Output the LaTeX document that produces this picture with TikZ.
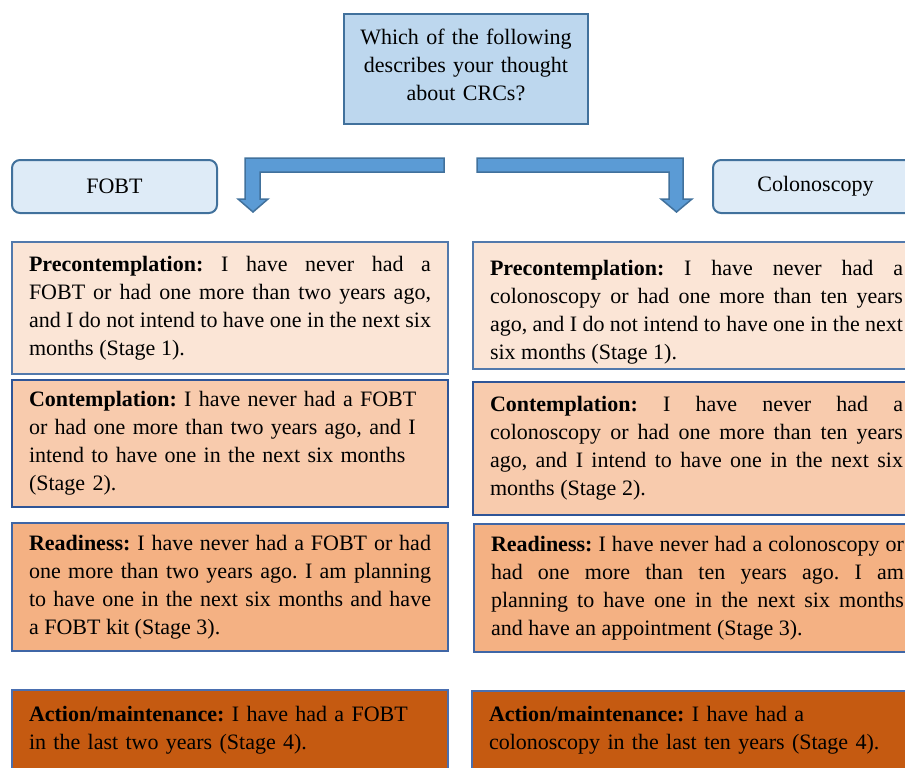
\documentclass[tikz,border=0pt]{standalone}
\usepackage{fontspec}
\setmainfont{Liberation Serif}
\definecolor{qfill}{HTML}{BDD7EE}
\definecolor{qline}{HTML}{41719C}
\definecolor{hfill}{HTML}{DEEBF7}
\definecolor{afill}{HTML}{5B9BD5}
\definecolor{sone}{HTML}{FBE5D6}
\definecolor{stwo}{HTML}{F8CBAD}
\definecolor{sthree}{HTML}{F4B183}
\definecolor{sfour}{HTML}{C55A11}
\definecolor{bone}{HTML}{5279AC}
\definecolor{btwo}{HTML}{2F5597}
\definecolor{bthree}{HTML}{3F66A6}
\definecolor{bfour}{HTML}{4A6FB0}
\newcommand\diagfont{\fontsize{22}{28}\selectfont\frenchspacing\hyphenpenalty 10000 \exhyphenpenalty 10000 }
\begin{document}
\begin{tikzpicture}[x=1pt,y=-1pt,
  txt/.style={font=\diagfont},
  stagebox/.style={txt, draw, line width=2pt, anchor=north west, inner xsep=17pt, inner ysep=0pt, align=justify},
  leftcol/.style={stagebox, text width=402pt, minimum width=436pt},
  rightcol/.style={stagebox, text width=413pt, minimum width=447pt},
  headbox/.style={txt, draw=qline, fill=hfill, line width=2pt, rounded corners=8pt, anchor=north west, minimum width=205pt, minimum height=53pt},
  bentarrow/.style={fill=afill, draw=qline, line width=1.5pt, line join=miter}
]
\useasboundingbox (0,0) rectangle (905,768);
\clip (0,0) rectangle (905,768);

\node[txt, draw=qline, fill=qfill, line width=2pt, anchor=north west, minimum width=244pt, minimum height=110pt, text width=230pt, align=center] (q) at (343,13)
  {Which of the following\\ describes your thought\\ about CRCs?\rule[-8pt]{0pt}{8pt}};

\node[headbox] (fobt) at (11,159) {FOBT};
\node[headbox] (colo) at (712,159) {Colonoscopy};

% bent arrows
\coordinate (la) at (444,158);
\coordinate (ra) at (477,158);
\draw[bentarrow] (la) -- (245,158) -- (245,199) -- (238,199) -- (253,212) -- (268,199) -- (260,199) -- (260,172) -- (444,172) -- cycle;
\draw[bentarrow] (ra) -- (683,158) -- (683,199) -- (692,199) -- (676.5,212) -- (661,199) -- (669,199) -- (669,172) -- (477,172) -- cycle;

% left column
\node[leftcol, draw=bone, fill=sone, minimum height=132pt] (l1) at (11,241)
  {\textbf{Precontemplation:} I have never had a\linebreak FOBT or had one more than two years ago,\linebreak and I do not intend to have one in the next six\linebreak months (Stage 1).};
\node[leftcol, draw=btwo, fill=stwo, minimum height=127pt, align=left] (l2) at (11,379)
  {\textbf{Contemplation:} I have never had a FOBT\\ or had one more than two years ago, and I\\ intend to have one in the next six months\\ (Stage 2).};
\node[leftcol, draw=bthree, fill=sthree, minimum height=128pt] (l3) at (11,522)
  {\textbf{Readiness:} I have never had a FOBT or had\linebreak one more than two years ago. I am planning\linebreak to have one in the next six months and have\linebreak a FOBT kit (Stage 3).};
\node[leftcol, draw=bfour, fill=sfour, minimum height=90pt, align=left] (l4) at (11,689)
  {\textbf{Action/maintenance:} I have had a FOBT\\ in the last two years (Stage 4).\rule[-14pt]{0pt}{14pt}};

% right column
\node[rightcol, draw=bone, fill=sone, minimum height=127pt] (r1) at (472,241)
  {\rule{0pt}{28pt}\textbf{Precontemplation:} I have never had a\linebreak colonoscopy or had one more than ten years\linebreak ago, and I do not intend to have one in the next\linebreak six months (Stage 1).};
\node[rightcol, draw=btwo, fill=stwo, minimum height=133pt] (r2) at (472,381)
  {\textbf{Contemplation:} I have never had a\linebreak colonoscopy or had one more than ten years\linebreak ago, and I intend to have one in the next six\linebreak months (Stage 2).\rule[-4pt]{0pt}{4pt}};
\node[rightcol, draw=bthree, fill=sthree, minimum height=128pt] (r3) at (473,523)
  {\textbf{Readiness:} I have never had a colonoscopy or\linebreak had one more than ten years ago. I am\linebreak planning to have one in the next six months\linebreak and have an appointment (Stage 3).};
\node[rightcol, draw=bfour, fill=sfour, minimum height=90pt, align=left] (r4) at (471,690)
  {\textbf{Action/maintenance:} I have had a\\ colonoscopy in the last ten years (Stage 4).\rule[-16pt]{0pt}{16pt}};
\end{tikzpicture}
\end{document}
